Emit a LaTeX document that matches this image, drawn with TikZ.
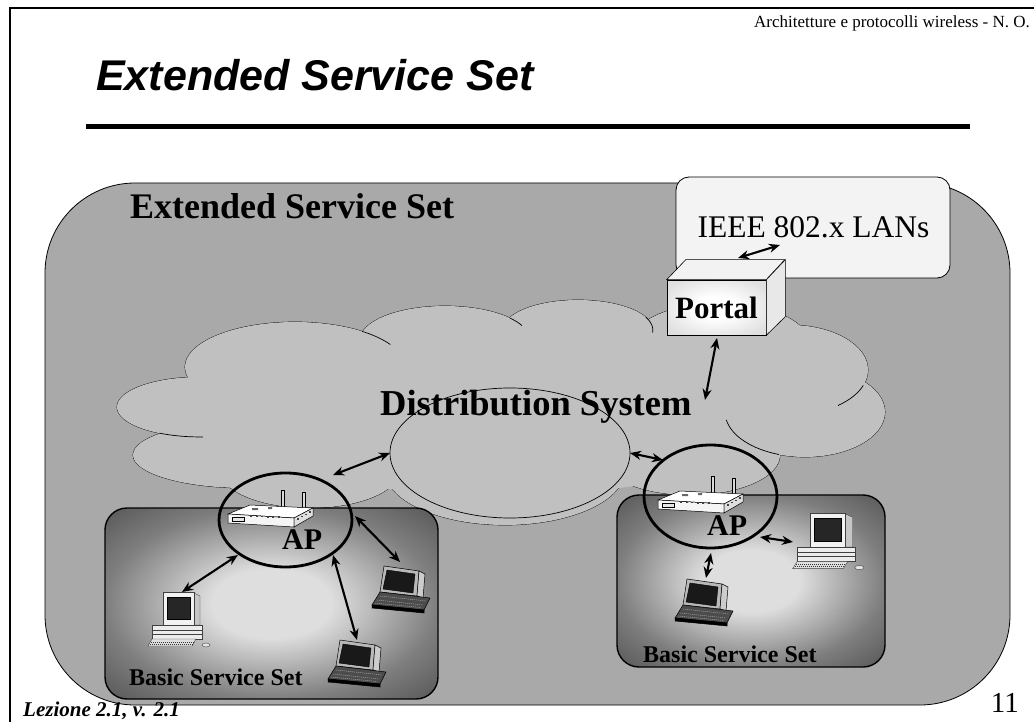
\documentclass[tikz,border=0pt]{standalone}
\usepackage{fontspec}
\setmainfont{Liberation Serif}
\newfontfamily\arialfont{Liberation Sans}
\usetikzlibrary{shapes.geometric,arrows.meta}
\definecolor{essgray}{HTML}{A9A9A9}
\definecolor{cloudgray}{HTML}{C0C0C0}
\definecolor{langray}{HTML}{F3F3F3}
\definecolor{bssin}{HTML}{DEDEDE}
\definecolor{bssmid}{HTML}{7E7E7E}
\definecolor{bssout}{HTML}{555555}
\pgfdeclareradialshading{bssshade}{\pgfpoint{0bp}{0bp}}{color(0bp)=(bssin); color(9bp)=(bssin); color(25bp)=(bssmid); color(36bp)=(bssout); color(50bp)=(bssout)}
\pgfdeclareradialshading{portalshade}{\pgfpoint{0bp}{0bp}}{color(0bp)=(white); color(10bp)=(white); color(30bp)=(black!12); color(50bp)=(black!15)}
\newcommand\myfs[1]{\fontsize{#1}{#1}\selectfont}
\tikzset{
  biarrow/.style={{Stealth[length=11pt,width=9pt]}-{Stealth[length=11pt,width=9pt]}, line width=2.1pt},
  aploop/.style={ellipse, draw, line width=2.8pt, inner sep=0pt},
  bssbox/.style={draw, line width=1.4pt, rounded corners=22pt, shading=bssshade, inner sep=0pt},
  lbl/.style={inner sep=0pt},
  lobe/.style={line width=0.7pt},
  pcpic/.pic={
    \filldraw[fill=gray!45, draw=gray!50!black, line width=0.4pt] (44,1) -- (50,4) -- (50,33) -- (44,33) -- cycle;
    \filldraw[fill=gray!10, draw=gray!50!black, line width=0.4pt] (13,0) rectangle (44,33);
    \filldraw[fill=black!85, draw=black, line width=0.4pt] (17,5) rectangle (40,27);
    \filldraw[fill=gray!15, draw=gray!50!black, line width=0.4pt] (2,33) rectangle (52,47);
    \draw[gray!50!black, line width=0.4pt] (2,38) -- (52,38) (2,42) -- (52,42);
    \filldraw[fill=gray!25, draw=gray!50!black, line width=0.4pt] (2,47) -- (46,47) -- (42,54) -- (-2,54) -- cycle;
    \draw[gray!40!black, line width=0.4pt, dash pattern=on 1pt off 1pt] (1,50) -- (44,50) (0,52) -- (43,52);
    \filldraw[fill=gray!20, draw=gray!50!black, line width=0.4pt] (56,53) ellipse [x radius=4, y radius=2];
  },
  laptoppic/.pic={
    \filldraw[fill=gray!55, draw=black, line width=0.5pt] (12,1) -- (47,6) -- (45,31) -- (8,27) -- cycle;
    \filldraw[fill=black!90, draw=black, line width=0.4pt] (15,5) -- (43,9) -- (41,28) -- (11,24) -- cycle;
    \filldraw[fill=gray!40, draw=black, line width=0.5pt] (47,6) -- (53,9) -- (51,33) -- (45,31) -- cycle;
    \filldraw[fill=black!70, draw=black, line width=0.5pt] (8,27) -- (58,33) -- (52,45) -- (0,40) -- cycle;
    \draw[gray!75, line width=0.5pt, dash pattern=on 1.2pt off 0.8pt] (8,31) -- (54,36) (5,35) -- (51,40) (3,38) -- (49,42.5);
    \filldraw[fill=black, draw=black, line width=0.5pt] (0,40) -- (52,45) -- (52,48) -- (0,43) -- cycle;
  },
  routerpic/.pic={
    \filldraw[fill=gray!30, draw=black, line width=0.4pt] (53,2) rectangle (56,22);
    \filldraw[fill=gray!30, draw=black, line width=0.4pt] (74,4) rectangle (77,23);
    \filldraw[fill=white, draw=black, line width=0.5pt] (0,26) -- (22,17) -- (85,20) -- (66,30) -- cycle;
    \filldraw[fill=gray!8, draw=black, line width=0.5pt] (0,26) -- (66,30) -- (66,39) -- (0,35) -- cycle;
    \filldraw[fill=gray!25, draw=black, line width=0.5pt] (66,30) -- (85,20) -- (85,28) -- (66,39) -- cycle;
    \foreach \i in {0,...,7} { \fill[black!75] ({22+5.5*\i},{27.3+0.2*\i}) rectangle ++(2.2,1.6); }
    \foreach \i in {0,...,3} { \fill[black!75] ({69+4*\i},{30-2.2*\i}) rectangle ++(1.6,1.6); }
    \filldraw[fill=gray!20, draw=black, line width=0.4pt] (4,29) rectangle (16,33);
    \fill[black!60] (24,20) rectangle (30,22) (40,19) rectangle (44,21);
  }
}
\begin{document}
\begin{tikzpicture}[x=1pt,y=-1pt]
\useasboundingbox (0,0) rectangle (1034,722);
\fill[white] (0,0) rectangle (1034,722);

% slide frame
\draw[line width=2.5pt] (10,722) -- (10,8) -- (1034,8);

% header, title, rule
\node[lbl, anchor=base east, font=\myfs{17}] (hdr) at (1030,28) {Architetture e protocolli wireless - N.\ O.};
\node[lbl, anchor=base west, font=\arialfont\bfseries\itshape\myfs{43}] (title) at (96,91) {Extended Service Set};
\draw[line width=5pt] (86,127) -- (970,127);

% Extended service set box
\node[draw, fill=essgray, rounded corners=90pt, minimum width=965pt, minimum height=522pt, inner sep=0pt, line width=0.8pt] (ess) at (527.5,444) {};
% LAN box
\node[draw, fill=langray, rounded corners=13pt, minimum width=274pt, minimum height=101pt, inner sep=0pt, line width=0.8pt] (lan) at (813,227.5) {};
\node[lbl, anchor=base, font=\myfs{31.5}] (lantxt) at (813.5,238) {IEEE 802.x LANs};
\node[lbl, anchor=base west, font=\bfseries\myfs{36}] (esstxt) at (130,219) {Extended Service Set};

% cloud (Distribution System)
\foreach \cx/\cy/\rx/\ry in {200/407/83/30, 245/455/112/33, 295/367/110/45, 445/340/85/34, 578/330/75/30, 720/345/90/42, 790/370/78/45, 805/412/80/45, 690/455/90/40, 505/470/120/55, 310/470/90/38}
  { \filldraw[lobe, fill=cloudgray, draw=black] (\cx,\cy) ellipse [x radius=\rx, y radius=\ry]; }
\foreach \cx/\cy/\rx/\ry in {200/407/83/30, 245/455/112/33, 295/367/110/45, 445/340/85/34, 578/330/75/30, 720/345/90/42, 790/370/78/45, 805/412/80/45, 690/455/90/40, 505/470/120/55, 310/470/90/38, 500/410/300/85}
  { \fill[cloudgray] (\cx,\cy) ellipse [x radius=\rx, y radius=\ry]; }
% creases
\draw[lobe] (159.8,433.2) arc[start angle=119, end angle=88, x radius=83, y radius=30];
\draw[lobe] (362,331.3) arc[start angle=-52.5, end angle=-30, x radius=110, y radius=45];
\draw[lobe] (510.1,318.1) arc[start angle=-40, end angle=-25, x radius=85, y radius=34];
\draw[lobe] (645.9,317.3) arc[start angle=-25, end angle=5, x radius=75, y radius=30];
\draw[lobe] (863.3,385.4) arc[start angle=20, end angle=52, x radius=78, y radius=45];
\draw[lobe] (779,454.5) arc[start angle=109, end angle=170, x radius=80, y radius=45];

\node[ellipse, draw, line width=0.7pt, minimum width=240pt, minimum height=130pt, inner sep=0pt] (ds) at (510,453) {};
\node[lbl, anchor=base west, font=\bfseries\myfs{36.5}] (dstxt) at (380,415) {Distribution System};

% portal
\node[draw, line width=0.6pt, shading=portalshade, minimum width=99pt, minimum height=55pt, inner sep=0pt, font=\bfseries\myfs{31}] (portal) at (716.5,307.5) {Portal};
\filldraw[fill=gray!10, draw=black, line width=0.6pt] (portal.north west) -- ++(19,-20) -- ++(99,0) -- (portal.north east) -- cycle;
\filldraw[fill=gray!18, draw=black, line width=0.6pt] (portal.north east) -- ++(19,-20) -- ++(0,57) -- (portal.south east) -- cycle;

% basic service sets
\node[bssbox, minimum width=333pt, minimum height=191pt] (bssL) at (271.5,603.5) {};
\node[bssbox, minimum width=268pt, minimum height=172pt] (bssR) at (751,581) {};

% access points
\node[aploop, minimum width=133pt, minimum height=94pt] (apL) at (285.5,520) {};
\node[aploop, minimum width=133pt, minimum height=103pt] (apR) at (710.5,496.5) {};
\pic at (228,488) {routerpic};
\pic at (658,474) {routerpic};
\node[lbl, anchor=base west, font=\bfseries\myfs{30}] (apLtxt) at (282,549) {AP};
\node[lbl, anchor=base west, font=\bfseries\myfs{30}] (apRtxt) at (707,535) {AP};

% stations
\pic at (150,592) {pcpic};
\pic at (372,565) {laptoppic};
\pic at (328,639) {laptoppic};
\pic[xscale=1.15, yscale=1.03] at (795,513) {pcpic};
\pic at (675,578) {laptoppic};

\node[lbl, anchor=base west, font=\bfseries\myfs{24}] (bssLtxt) at (129,685) {Basic Service Set};
\node[lbl, anchor=base west, font=\bfseries\myfs{24}] (bssRtxt) at (643,662) {Basic Service Set};

% connector end points
\coordinate (lanA) at (780,245);
\coordinate (portA) at (738,258);
\coordinate (portB) at (717,338);
\coordinate (dsA) at (705,400);
\coordinate (apLa) at (333,475);
\coordinate (dsL) at (390,453);
\coordinate (apLb) at (238,555);
\coordinate (pcL) at (182,592);
\coordinate (apLc) at (355,516);
\coordinate (lapL1) at (400,562);
\coordinate (apLd) at (333,555);
\coordinate (lapL2) at (357,640);
\coordinate (dsR) at (630,453);
\coordinate (apRa) at (663,460);
\coordinate (apRb) at (760,537);
\coordinate (pcR) at (793,542);
\coordinate (apRc) at (711,553);
\coordinate (lapR) at (706,578);

\draw[biarrow] (portA) -- (lanA);
\draw[biarrow] (portB) -- (dsA);
\draw[biarrow] (apLa) -- (dsL);
\draw[biarrow] (apLb) -- (pcL);
\draw[biarrow] (apLc) -- (lapL1);
\draw[biarrow] (apLd) -- (lapL2);
\draw[biarrow] (dsR) -- (apRa);
\draw[biarrow] (apRb) -- (pcR);
\draw[biarrow] (apRc) -- (lapR);

% footer
\node[lbl, anchor=base west, font=\bfseries\itshape\myfs{21}] (foot) at (23,716) {Lezione 2.1, v. 2.1};
\node[lbl, anchor=base east, font=\myfs{29}] (pagenum) at (1019,712) {11};
\end{tikzpicture}
\end{document}
